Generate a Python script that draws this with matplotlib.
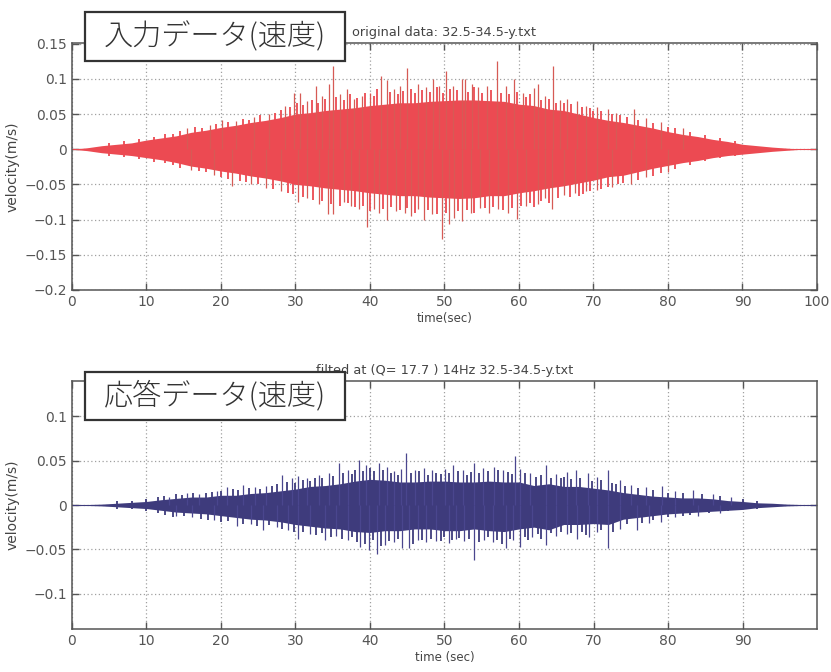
import matplotlib
matplotlib.use("Agg")
import matplotlib.pyplot as plt
from matplotlib.patches import Rectangle
import numpy as np

# ---------------- data ----------------
t_env = list(range(0, 101, 2))

top_upper = [0, 0.002, 0.005, 0.007, 0.009, 0.013, 0.016, 0.019, 0.024, 0.027,
             0.031, 0.034, 0.038, 0.041, 0.045, 0.050, 0.052, 0.055, 0.057, 0.059,
             0.062, 0.064, 0.066, 0.066, 0.068, 0.069, 0.070, 0.070, 0.069, 0.068,
             0.064, 0.062, 0.057, 0.055, 0.050, 0.045, 0.041, 0.038, 0.034, 0.030,
             0.025, 0.021, 0.018, 0.014, 0.011, 0.007, 0.005, 0.003, 0.0015, 0, 0]
top_lower = [0, -0.002, -0.005, -0.007, -0.009, -0.012, -0.015, -0.019, -0.024, -0.027,
             -0.031, -0.034, -0.038, -0.041, -0.045, -0.050, -0.052, -0.055, -0.057, -0.059,
             -0.062, -0.064, -0.066, -0.066, -0.068, -0.069, -0.070, -0.069, -0.066, -0.066,
             -0.062, -0.059, -0.055, -0.052, -0.048, -0.044, -0.039, -0.037, -0.032, -0.027,
             -0.023, -0.019, -0.016, -0.012, -0.009, -0.007, -0.005, -0.003, -0.0015, 0, 0]

# tall individual peaks
top_spike_up_t = [15.5, 18.5, 20.2, 22, 24.5, 26.5, 28.6, 29.8, 30.6, 31.5, 32.7, 33.5, 34.5, 35.0,
                  36.0, 36.9, 37.8, 38.9, 40.0, 41.5, 42.3, 43.2, 44.0, 45.0, 46.5, 47.5, 48.5,
                  49.3, 50.2, 51.2, 52.4, 52.8, 53.7, 54.5, 55.7, 57.1, 58.2, 59.3, 60.5, 62.0,
                  62.6, 63.5, 64.6, 65.5, 66.5, 67.8, 69, 70.5, 71.9, 73, 75.4, 77, 79, 82]
top_spike_up_v = [0.03, 0.034, 0.042, 0.04, 0.046, 0.05, 0.062, 0.08, 0.08, 0.068, 0.09, 0.075, 0.092,
                  0.118, 0.078, 0.085, 0.072, 0.075, 0.08, 0.104, 0.098, 0.085, 0.09, 0.116, 0.092,
                  0.088, 0.100, 0.09, 0.111, 0.09, 0.10, 0.10, 0.092, 0.088, 0.09, 0.125, 0.09, 0.10,
                  0.08, 0.087, 0.092, 0.075, 0.118, 0.07, 0.072, 0.068, 0.062, 0.06, 0.057, 0.052,
                  0.057, 0.045, 0.038, 0.03]
top_spike_lo_t = [16, 19, 21.5, 24, 26, 28, 30.4, 31.5, 33.1, 34.4, 35.0, 36.5, 37.5, 38.5, 39.6,
                  40.5, 41.2, 42.3, 43.5, 44.7, 45.5, 46.5, 47.2, 48.3, 49.7, 50.6, 51.3, 52.4,
                  53.5, 54.8, 56, 57.2, 58.5, 59.7, 61, 62.5, 63.5, 64.5, 66, 67.5, 69, 70.5,
                  72.5, 75, 77, 80]
top_spike_lo_v = [-0.03, -0.036, -0.052, -0.05, -0.055, -0.06, -0.075, -0.07, -0.078, -0.092,
                  -0.092, -0.075, -0.08, -0.085, -0.111, -0.085, -0.09, -0.101, -0.088, -0.09,
                  -0.095, -0.085, -0.1, -0.092, -0.127, -0.106, -0.098, -0.102, -0.09, -0.083,
                  -0.09, -0.085, -0.09, -0.099, -0.08, -0.078, -0.07, -0.085, -0.065, -0.062,
                  -0.06, -0.058, -0.054, -0.05, -0.04, -0.033]

# smaller peaks along the ragged edge
top_minor_up_t = [5, 7, 9, 11, 12.5, 13.5, 14.5, 16.5, 17.5, 19.3, 21, 23, 23.8, 25.3, 27.2, 28.0,
                  29.2, 30.2, 31.0, 32.2, 33.0, 34.0, 35.5, 36.5, 37.3, 38.3, 39.4, 40.6, 41.0,
                  42.7, 43.7, 44.5, 45.5, 46.0, 47.0, 48.0, 49.0, 49.8, 50.7, 51.7, 53.2, 54.0,
                  55.0, 56.3, 57.6, 58.7, 59.8, 61.0, 61.5, 63.0, 64.0, 65.0, 66.0, 67.0, 68.5,
                  69.5, 70.0, 71.0, 72.5, 73.5, 74.5, 76.0, 78.0, 80.0, 81.0, 83.0, 85.0, 87.0, 89.0]
top_minor_up_v = [0.009, 0.011, 0.014, 0.018, 0.021, 0.022, 0.026, 0.031, 0.030, 0.036, 0.038, 0.043,
                  0.041, 0.048, 0.052, 0.056, 0.060, 0.066, 0.063, 0.070, 0.066, 0.072, 0.074, 0.070,
                  0.078, 0.073, 0.080, 0.076, 0.085, 0.082, 0.078, 0.083, 0.086, 0.080, 0.084, 0.082,
                  0.088, 0.080, 0.086, 0.084, 0.082, 0.088, 0.080, 0.084, 0.080, 0.078, 0.082, 0.074,
                  0.078, 0.070, 0.072, 0.066, 0.065, 0.064, 0.060, 0.058, 0.055, 0.054, 0.050, 0.048,
                  0.046, 0.042, 0.037, 0.032, 0.030, 0.025, 0.020, 0.016, 0.011]
top_minor_lo_t = [5, 7, 9, 11, 12.5, 13.5, 14.5, 17, 18, 20, 21, 22.5, 23.3, 25, 27, 29, 29.7,
                  31, 32.3, 33.6, 34.8, 36, 37, 38, 39, 40, 41.8, 42.8, 44, 45, 46, 47.8, 49,
                  50.2, 51.8, 53, 54, 55.5, 56.5, 57.8, 59, 60.3, 61.5, 62, 63, 64, 65.3, 66.8,
                  68, 68.6, 69.6, 71, 72, 73.3, 74, 76, 78, 79, 81, 83, 85, 87, 89]
top_minor_lo_v = [-0.009, -0.011, -0.014, -0.018, -0.020, -0.023, -0.026, -0.031, -0.033, -0.040,
                  -0.042, -0.045, -0.047, -0.050, -0.056, -0.062, -0.064, -0.068, -0.072, -0.074,
                  -0.078, -0.080, -0.076, -0.082, -0.080, -0.088, -0.085, -0.082, -0.086, -0.084,
                  -0.090, -0.087, -0.092, -0.090, -0.088, -0.086, -0.090, -0.084, -0.082, -0.086,
                  -0.084, -0.080, -0.076, -0.082, -0.074, -0.076, -0.070, -0.068, -0.066, -0.064,
                  -0.060, -0.056, -0.054, -0.050, -0.048, -0.044, -0.038, -0.034, -0.028, -0.022,
                  -0.017, -0.013, -0.010]

bot_upper = [0, 0.0005, 0.001, 0.002, 0.003, 0.004, 0.006, 0.0075, 0.009, 0.009,
             0.011, 0.011, 0.013, 0.014, 0.016, 0.018, 0.021, 0.022, 0.024, 0.027,
             0.029, 0.028, 0.026, 0.026, 0.027, 0.027, 0.026, 0.026, 0.027, 0.026,
             0.026, 0.022, 0.024, 0.021, 0.021, 0.019, 0.017, 0.014, 0.012, 0.010,
             0.009, 0.008, 0.008, 0.007, 0.005, 0.004, 0.0025, 0.002, 0.001, 0.0005, 0]
bot_lower = [0, -0.0005, -0.001, -0.002, -0.003, -0.004, -0.006, -0.008, -0.009, -0.010,
             -0.012, -0.014, -0.016, -0.017, -0.019, -0.022, -0.024, -0.026, -0.027, -0.030,
             -0.031, -0.029, -0.029, -0.027, -0.027, -0.029, -0.029, -0.027, -0.029, -0.030,
             -0.027, -0.025, -0.028, -0.022, -0.022, -0.021, -0.022, -0.016, -0.014, -0.012,
             -0.010, -0.009, -0.008, -0.007, -0.006, -0.005, -0.003, -0.002, -0.001, -0.0005, 0]

bot_spike_up_t = [13, 15.5, 17, 19.5, 20.8, 23, 24.5, 26, 28.2, 29.5, 30.4, 31.5, 33.1, 34.5, 35.8,
                  37, 38.5, 39.5, 41.2, 42.3, 43.2, 44.1, 44.9, 46, 47.2, 48.3, 50.1, 51.2, 52.5,
                  54, 55.2, 56.6, 57.8, 59.5, 60.2, 61.5, 63.6, 65, 66.5, 67.6, 69.2, 70.5, 71.9,
                  73.5, 75, 77, 79.2, 81, 83.3, 86, 88.5]
bot_spike_up_v = [0.009, 0.013, 0.012, 0.016, 0.02, 0.023, 0.02, 0.022, 0.034, 0.03, 0.033, 0.03,
                  0.034, 0.036, 0.047, 0.04, 0.051, 0.045, 0.047, 0.043, 0.038, 0.041, 0.059, 0.04,
                  0.042, 0.04, 0.041, 0.045, 0.04, 0.047, 0.042, 0.043, 0.04, 0.055, 0.041, 0.036,
                  0.045, 0.035, 0.037, 0.04, 0.036, 0.032, 0.04, 0.028, 0.023, 0.02, 0.021, 0.016,
                  0.017, 0.012, 0.009]
bot_spike_lo_t = [14, 16.1, 19, 22.1, 24, 25.7, 27.5, 29, 30.4, 32, 34, 35.5, 37, 38.7, 39.8, 40.9,
                  42, 43.2, 44.3, 45.2, 46.5, 47.5, 48.8, 50.6, 51.5, 52.6, 54, 55.3, 56.5, 58.2,
                  59.2, 60.2, 61.8, 63.6, 65, 66.5, 67.8, 69.4, 70.5, 71.9, 73.5, 75.9, 77.5, 79,
                  81, 84, 87]
bot_spike_lo_v = [-0.012, -0.013, -0.017, -0.024, -0.022, -0.028, -0.025, -0.028, -0.038, -0.033,
                  -0.04, -0.035, -0.04, -0.047, -0.051, -0.055, -0.045, -0.042, -0.049, -0.049,
                  -0.04, -0.042, -0.041, -0.043, -0.038, -0.041, -0.062, -0.04, -0.042, -0.049,
                  -0.04, -0.047, -0.036, -0.045, -0.035, -0.033, -0.038, -0.036, -0.03, -0.049,
                  -0.027, -0.028, -0.02, -0.019, -0.014, -0.012, -0.009]

bot_minor_up_t = [6, 8, 10, 11.5, 12.3, 14, 14.8, 16.3, 18, 18.8, 20, 21.6, 22.3, 23.7, 25.2, 26.8,
                  27.5, 28.8, 30, 31, 32, 32.6, 33.6, 35, 36.4, 37.6, 38, 39, 40, 40.6, 41.8,
                  42.8, 43.7, 45.5, 46.6, 47.8, 48.8, 49.5, 50.6, 51.8, 53, 53.5, 54.6, 55.8,
                  57.2, 58.5, 59, 60.8, 62.3, 63, 64.3, 65.6, 66, 67, 68.2, 69.8, 71, 72.5, 73,
                  74.2, 76, 78, 80, 82, 84.5, 87, 90, 92]
bot_minor_up_v = [0.004, 0.005, 0.007, 0.009, 0.010, 0.012, 0.011, 0.014, 0.013, 0.015, 0.016,
                  0.018, 0.017, 0.019, 0.018, 0.021, 0.024, 0.026, 0.025, 0.028, 0.027, 0.030,
                  0.031, 0.033, 0.036, 0.035, 0.040, 0.038, 0.042, 0.038, 0.040, 0.036, 0.034,
                  0.036, 0.038, 0.034, 0.036, 0.035, 0.036, 0.038, 0.034, 0.037, 0.036, 0.038,
                  0.039, 0.037, 0.035, 0.036, 0.032, 0.034, 0.031, 0.030, 0.032, 0.029, 0.030,
                  0.027, 0.028, 0.025, 0.024, 0.022, 0.019, 0.017, 0.014, 0.013, 0.012, 0.010,
                  0.007, 0.004]
bot_minor_lo_t = [6, 8, 10, 11.5, 12.5, 13.5, 15, 17.3, 18.3, 20, 21, 23, 24.8, 26.5, 28.2, 29.8,
                  31, 32.8, 33.5, 34.7, 36.2, 37.6, 38.2, 39.3, 40.4, 41.5, 42.6, 43.8, 45.8,
                  47, 48.2, 49.5, 50, 51, 52, 53.3, 54.6, 55.8, 57, 57.7, 58.8, 60.8, 61.2, 62.5,
                  63, 64.3, 65.6, 67, 68.5, 69, 71, 72.6, 74.5, 76.5, 78, 80, 82, 83, 85.5, 88,
                  90, 92]
bot_minor_lo_v = [-0.004, -0.005, -0.007, -0.009, -0.011, -0.013, -0.012, -0.016, -0.017, -0.019,
                  -0.018, -0.021, -0.024, -0.023, -0.027, -0.031, -0.030, -0.034, -0.032, -0.036,
                  -0.038, -0.036, -0.042, -0.044, -0.040, -0.046, -0.041, -0.038, -0.044, -0.040,
                  -0.038, -0.041, -0.036, -0.040, -0.037, -0.038, -0.042, -0.036, -0.040, -0.044,
                  -0.038, -0.036, -0.040, -0.033, -0.038, -0.032, -0.030, -0.032, -0.030, -0.034,
                  -0.028, -0.030, -0.022, -0.020, -0.017, -0.014, -0.012, -0.011, -0.009, -0.007,
                  -0.005, -0.004]

top_title = "original data: 32.5-34.5-y.txt"
bot_title = "filted at (Q= 17.7 ) 14Hz 32.5-34.5-y.txt"
top_label = "入力データ(速度)"
bot_label = "応答データ(速度)"

top_xticks = list(range(0, 101, 10))
top_yticks = [-0.2, -0.15, -0.1, -0.05, 0, 0.05, 0.1, 0.15]
top_yticklabels = ["\u22120.2", "\u22120.15", "\u22120.1", "\u22120.05", "0", "0.05", "0.1", "0.15"]
bot_xticks = list(range(0, 91, 10))
bot_yticks = [-0.1, -0.05, 0, 0.05, 0.1]
bot_yticklabels = ["\u22120.1", "\u22120.05", "0", "0.05", "0.1"]

RED = "#EC4A52"
RED_SPIKE = "#D65A55"
NAVY = "#3E3B7C"
NAVY_SPIKE = "#4A468E"

# ---------------- figure ----------------
plt.rcParams['font.family'] = ['DejaVu Sans', 'Noto Sans CJK JP']
fig = plt.figure(figsize=(8.31, 6.72), dpi=100)
fig.patch.set_facecolor("white")

ax1 = fig.add_axes([0.0866, 0.5685, 0.8965, 0.3676])
ax2 = fig.add_axes([0.0866, 0.064, 0.8965, 0.369])

def style(ax, xticks, yticks, yticklabels, xlim, ylim):
    ax.set_xlim(*xlim)
    ax.set_ylim(*ylim)
    ax.set_xticks(xticks)
    ax.set_yticks(yticks)
    ax.set_yticklabels(yticklabels)
    ax.set_axisbelow(True)
    ax.grid(True, color="#a0a0a0", linestyle=(0, (1, 2)), linewidth=0.9)
    ax.tick_params(direction="in", length=5, width=1.0, color="#555555",
                   labelcolor="#555555", labelsize=10, top=True, right=True)
    for s in ax.spines.values():
        s.set_color("#555555")
        s.set_linewidth(1.1)
        s.set_zorder(5)

def draw(ax, upper, lower, su_t, su_v, sl_t, sl_v, mu_t, mu_v, ml_t, ml_v, xmax, c, cs):
    ax.plot([0, xmax], [0, 0], color=c, lw=0.8, zorder=2)
    ax.fill_between(t_env, lower, upper, color=c, lw=0, zorder=2)
    ax.vlines(mu_t, 0, mu_v, color=c, lw=1.3, zorder=2)
    ax.vlines(ml_t, 0, ml_v, color=c, lw=1.3, zorder=2)
    ax.vlines(su_t, 0, su_v, color=cs, lw=0.9, zorder=2)
    ax.vlines(sl_t, 0, sl_v, color=cs, lw=0.9, zorder=2)

draw(ax1, top_upper, top_lower, top_spike_up_t, top_spike_up_v, top_spike_lo_t, top_spike_lo_v,
     top_minor_up_t, top_minor_up_v, top_minor_lo_t, top_minor_lo_v, 100, RED, RED_SPIKE)
style(ax1, top_xticks, top_yticks, top_yticklabels, (0, 100), (-0.2, 0.151))
ax1.set_title(top_title, fontsize=9.3, color="#444444", pad=5)
ax1.set_xlabel("time(sec)", fontsize=8.5, color="#444444", labelpad=2)
ax1.set_ylabel("velocity(m/s)", fontsize=10, color="#444444", labelpad=4)

draw(ax2, bot_upper, bot_lower, bot_spike_up_t, bot_spike_up_v, bot_spike_lo_t, bot_spike_lo_v,
     bot_minor_up_t, bot_minor_up_v, bot_minor_lo_t, bot_minor_lo_v, 99.99, NAVY, NAVY_SPIKE)
style(ax2, bot_xticks, bot_yticks, bot_yticklabels, (0, 99.99), (-0.14, 0.14))
ax2.set_title(bot_title, fontsize=9.3, color="#444444", pad=5)
ax2.set_xlabel("time (sec)", fontsize=8.5, color="#444444", labelpad=2)
ax2.set_ylabel("velocity(m/s)", fontsize=10, color="#444444", labelpad=4)

# label boxes
for (x0, y0, w, h, txt) in [(0.1023, 0.909, 0.313, 0.073, top_label),
                            (0.1023, 0.375, 0.313, 0.071, bot_label)]:
    fig.patches.append(Rectangle((x0, y0), w, h, transform=fig.transFigure,
                                 facecolor="white", edgecolor="#333333", lw=1.6, zorder=10))
    fig.text(x0 + w / 2, y0 + h / 2, txt, ha="center", va="center", fontsize=21,
             color="#333333", fontweight="light",
             family=['Noto Sans CJK JP', 'DejaVu Sans'], zorder=11)

fig.savefig("out.png", dpi=100, facecolor="white")
